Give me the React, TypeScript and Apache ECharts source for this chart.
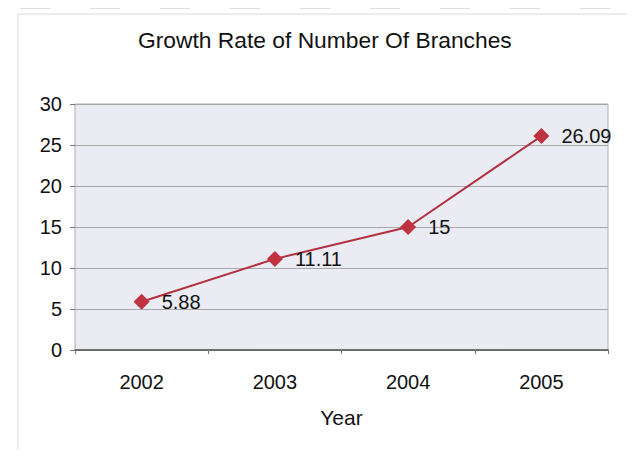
import React, { useEffect, useRef } from "react";
import * as echarts from "echarts";

const categories = ["2002", "2003", "2004", "2005"];
const growthRate = [5.88, 11.11, 15, 26.09];
const yTicks = [0, 5, 10, 15, 20, 25, 30];

export default function App() {
  const ref = useRef<HTMLDivElement>(null);
  useEffect(() => {
    if (!ref.current) return;
    const chart = echarts.init(ref.current, null, { renderer: "svg" });
    const font = "'Liberation Sans', Arial, sans-serif";
    chart.setOption({
      animation: false,
      backgroundColor: "#ffffff",
      textStyle: { fontFamily: font },
      title: {
        text: "Growth Rate of Number Of Branches",
        left: 138,
        top: 28,
        padding: 0,
        textStyle: { fontFamily: font, fontSize: 22.8, fontWeight: "normal", color: "#111" },
      },
      graphic: [
        {
          type: "rect",
          shape: { x: 18, y: 14, width: 612, height: 440 },
          style: { fill: "none", stroke: "#d8d8d8", lineWidth: 1 },
          z: -1,
        },
        {
          type: "line",
          shape: { x1: 20, y1: 8, x2: 630, y2: 8 },
          style: { stroke: "#bbbbbb", lineWidth: 1, lineDash: [30, 40] },
        },
      ],
      grid: {
        left: 75,
        top: 104,
        width: 533,
        height: 246,
        show: true,
        backgroundColor: "#eaebf3",
        borderColor: "#b0b0b0",
        borderWidth: 1,
      },
      xAxis: {
        type: "category",
        data: categories,
        name: "Year",
        nameLocation: "middle",
        nameGap: 57,
        nameTextStyle: { fontFamily: font, fontSize: 21, color: "#111" },
        axisLine: { show: true, lineStyle: { color: "#555", width: 1.5 } },
        axisTick: { show: true, length: 4, lineStyle: { color: "#777" } },
        axisLabel: { fontFamily: font, fontSize: 20, color: "#111", margin: 22 },
        splitLine: { show: false },
      },
      yAxis: {
        type: "value",
        min: yTicks[0],
        max: yTicks[yTicks.length - 1],
        interval: 5,
        axisLine: { show: false },
        axisTick: { show: true, length: 5, lineStyle: { color: "#777" } },
        axisLabel: { fontFamily: font, fontSize: 20, color: "#111", margin: 13 },
        splitLine: { show: true, lineStyle: { color: "#a8a8a8", width: 1 } },
      },
      series: [
        {
          type: "line",
          data: growthRate,
          symbol: "diamond",
          symbolSize: 16,
          lineStyle: { color: "#b3303e", width: 2 },
          itemStyle: { color: "#c0323f" },
          label: {
            show: true,
            position: "right",
            distance: 12,
            fontFamily: font,
            fontSize: 20,
            color: "#111",
          },
        },
      ],
    });
    return () => chart.dispose();
  }, []);
  return <div ref={ref} style={{ width: 635, height: 457, margin: -8 }} />;
}
